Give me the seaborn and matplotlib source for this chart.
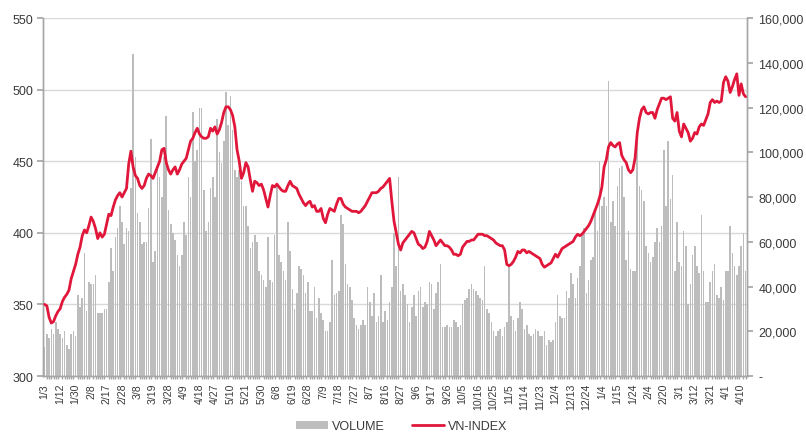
import matplotlib
matplotlib.use("Agg")
import matplotlib.pyplot as plt
import matplotlib.ticker as mticker
from matplotlib.patches import Patch
from matplotlib.lines import Line2D
import seaborn as sns
import numpy as np
import pandas as pd

# ---------------- data ----------------
tick_labels = ["1/3", "1/12", "1/30", "2/8", "2/17", "2/28", "3/8", "3/19", "3/28", "4/9",
               "4/18", "4/27", "5/10", "5/21", "5/30", "6/8", "6/19", "6/28", "7/9", "7/18",
               "7/27", "8/7", "8/16", "8/27", "9/6", "9/17", "9/26", "10/5", "10/16", "10/25",
               "11/5", "11/14", "11/23", "12/4", "12/13", "12/24", "1/4", "1/15", "1/24", "2/4",
               "2/20", "3/1", "3/12", "3/21", "4/1", "4/10"]

vn_index = [
    350, 349, 341, 337, 338, 342, 345, 347, 352, 355, 357, 360, 368, 373, 378, 385, 390, 398, 402, 400,
    405, 411, 408, 403, 396, 400, 397, 399, 406, 413, 412, 418, 423, 426, 428, 425, 428, 431, 448, 457,
    446, 440, 438, 433, 431, 433, 438, 441, 440, 438, 442, 446, 450, 458, 459, 449, 444, 441, 444, 446,
    441, 444, 448, 450, 452, 458, 464, 466, 470, 473, 469, 467, 466, 466, 467, 473, 471, 474, 469, 472,
    477, 484, 488, 488, 486, 482, 474, 458, 450, 438, 442, 449, 446, 437, 429, 436, 435, 433, 434, 430,
    424, 418, 426, 433, 432, 434, 432, 430, 429, 429, 433, 436, 433, 432, 431, 427, 424, 421, 419, 421,
    422, 418, 419, 415, 415, 417, 410, 407, 413, 417, 416, 415, 420, 424, 424, 420, 418, 417, 416, 415,
    415, 415, 414, 415, 417, 419, 422, 425, 428, 428, 428, 429, 431, 432, 434, 436, 438, 422, 408, 400,
    392, 388, 393, 395, 397, 399, 401, 400, 396, 392, 391, 389, 390, 394, 401, 398, 395, 391, 393, 395,
    393, 391, 391, 390, 388, 385, 385, 384, 385, 390, 392, 394, 394, 395, 395, 397, 399, 399, 399, 398,
    398, 397, 396, 395, 393, 392, 391, 391, 388, 378, 377, 378, 380, 383, 387, 386, 388, 388, 386, 387,
    386, 385, 384, 383, 382, 378, 376, 377, 378, 379, 382, 385, 383, 386, 389, 390, 391, 392, 393, 394,
    397, 399, 398, 399, 401, 403, 405, 408, 412, 416, 420, 425, 432, 446, 451, 460, 463, 461, 460, 462,
    463, 454, 451, 449, 444, 442, 444, 452, 470, 480, 486, 488, 484, 483, 484, 484, 480, 486, 490, 494,
    494, 493, 494, 495, 480, 478, 484, 471, 467, 476, 473, 470, 464, 466, 470, 469, 474, 476, 475, 479,
    483, 491, 493, 491, 492, 491, 492, 505, 509, 506, 498, 502, 507, 511, 496, 504, 497, 495]

volume = [
    13000, 19000, 17000, 21000, 19000, 24000, 21000, 19000, 17000, 20000,
    14000, 12000, 19000, 20000, 18000, 36000, 31000, 35000, 55000, 29000,
    42000, 41000, 41000, 45000, 28000, 28000, 28000, 30000, 30000, 42000,
    57000, 47000, 62000, 66000, 76000, 69000, 59000, 66000, 65000, 84000,
    144000, 98000, 73000, 69000, 59000, 60000, 60000, 75000, 106000, 51000,
    56000, 93000, 89000, 80000, 98000, 116000, 74000, 68000, 64000, 61000,
    54000, 49000, 54000, 69000, 63000, 89000, 80000, 118000, 96000, 101000,
    120000, 120000, 83000, 65000, 69000, 84000, 89000, 80000, 115000, 100000,
    95000, 105000, 127000, 112000, 125000, 110000, 92000, 89000, 92000, 87000,
    76000, 76000, 67000, 57000, 60000, 63000, 60000, 47000, 45000, 43000,
    40000, 62000, 43000, 42000, 63000, 86000, 54000, 51000, 47000, 43000,
    69000, 56000, 39000, 30000, 37000, 49000, 48000, 45000, 37000, 42000,
    29000, 29000, 40000, 26000, 35000, 28000, 25000, 20000, 20000, 24000,
    52000, 36000, 37000, 38000, 72000, 68000, 50000, 41000, 40000, 34000,
    26000, 23000, 21000, 23000, 25000, 23000, 40000, 33000, 27000, 37000,
    24000, 27000, 45000, 24000, 29000, 25000, 33000, 40000, 64000, 49000,
    89000, 38000, 41000, 36000, 32000, 24000, 31000, 36000, 27000, 38000,
    40000, 31000, 33000, 32000, 42000, 41000, 30000, 37000, 42000, 50000,
    22000, 22000, 23000, 22000, 22000, 25000, 24000, 22000, 23000, 32000,
    34000, 35000, 39000, 41000, 39000, 38000, 36000, 35000, 34000, 49000,
    30000, 28000, 24000, 20000, 18000, 20000, 21000, 18000, 22000, 24000,
    50000, 27000, 25000, 20000, 26000, 33000, 30000, 21000, 23000, 19000,
    18000, 19000, 21000, 20000, 18000, 18000, 20000, 14000, 16000, 15000,
    16000, 24000, 36000, 27000, 26000, 26000, 38000, 35000, 46000, 41000,
    35000, 44000, 49000, 64000, 66000, 37000, 43000, 52000, 53000, 74000,
    65000, 96000, 76000, 80000, 76000, 132000, 69000, 78000, 67000, 85000,
    93000, 94000, 80000, 52000, 65000, 48000, 47000, 47000, 104000, 85000,
    83000, 78000, 58000, 55000, 51000, 53000, 60000, 66000, 60000, 67000,
    101000, 76000, 105000, 79000, 90000, 47000, 69000, 51000, 49000, 65000,
    58000, 32000, 41000, 54000, 58000, 49000, 46000, 72000, 47000, 33000,
    33000, 42000, 47000, 50000, 36000, 35000, 40000, 34000, 47000, 47000,
    67000, 55000, 49000, 45000, 49000, 58000, 64000, 47000]

n = len(volume)
day = list(range(n))
df = pd.DataFrame({"day": day, "volume": volume, "index": vn_index[:n]})

# ---------------- style ----------------
sns.set_theme(style="white")
plt.rcParams["font.family"] = ["Liberation Sans", "DejaVu Sans"]

txt = "#3a3a3a"
axis_col = "#a6a6a6"
grid_col = "#d9d9d9"
bar_col = "#bdbdbd"
red = "#e0173a"

fig = plt.figure(figsize=(8.06, 4.35), dpi=100)
ax = fig.add_axes([0.0535, 0.1333, 0.8735, 0.8230])

# volume bars (right axis)
sns.barplot(data=df, x="day", y="volume", ax=ax, color=bar_col, width=0.72,
            saturation=1, native_scale=True, errorbar=None, zorder=2,
            linewidth=0, edgecolor="none")
ax.set_ylim(0, 160000)
ax.set_xlim(-0.7, n - 0.3)
ax.set_xlabel("")
ax.set_ylabel("")

# grid lines following the left axis ticks
left_ticks = [300, 350, 400, 450, 500, 550]
for t in left_ticks:
    ax.axhline((t - 300) / 250 * 160000, color=grid_col, lw=1.0, zorder=0)

# index line (left axis)
ax2 = ax.twinx()
sns.lineplot(data=df, x="day", y="index", ax=ax2, color=red, linewidth=2.0, zorder=5)
ax2.set_ylim(300, 550)
ax2.yaxis.tick_left()
ax2.yaxis.set_label_position("left")
ax2.set_yticks(left_ticks)
ax2.set_xlabel("")
ax2.set_ylabel("")
ax2.set_xlim(-0.7, n - 0.3)

# right axis for volume (after twinx, which resets tick side)
ax.yaxis.tick_right()
ax.yaxis.set_label_position("right")
ax.yaxis.set_major_locator(mticker.MultipleLocator(20000))
ax.yaxis.set_major_formatter(mticker.FuncFormatter(lambda v, p: "-" if v == 0 else f"{v:,.0f}"))

# x ticks
major_pos = [7 * k for k in range(len(tick_labels))]
ax.set_xticks(major_pos)
ax.set_xticklabels(tick_labels, rotation=90, fontsize=7.6, color=txt)
ax.set_xticks(day, minor=True)
ax.tick_params(axis="x", which="major", length=3, color=axis_col, pad=2)
ax.tick_params(axis="x", which="minor", length=2, color=axis_col, bottom=True)
ax.tick_params(axis="y", which="major", length=4, color=axis_col, labelsize=9,
               labelcolor=txt, right=True, left=False, labelleft=False, labelright=True, pad=4)
ax2.tick_params(axis="y", length=4, color=axis_col, labelsize=9, labelcolor=txt,
                left=True, right=False, labelleft=True, labelright=False, pad=3)
ax2.tick_params(axis="x", bottom=False, labelbottom=False)

for a in (ax, ax2):
    a.spines["top"].set_visible(False)
    for s in ("left", "right", "bottom"):
        a.spines[s].set_color(axis_col)
        a.spines[s].set_linewidth(1.0)

# legend
handles = [Patch(facecolor=bar_col, edgecolor="none", label="VOLUME"),
           Line2D([0], [0], color=red, lw=2.0, label="VN-INDEX")]
fig.legend(handles=handles, loc="center", bbox_to_anchor=(0.498, 0.018), ncol=2,
           frameon=False, fontsize=9, handlelength=2.6, handleheight=0.6,
           columnspacing=2.2, handletextpad=0.25, labelcolor=txt)

fig.savefig("out.png", dpi=100)
